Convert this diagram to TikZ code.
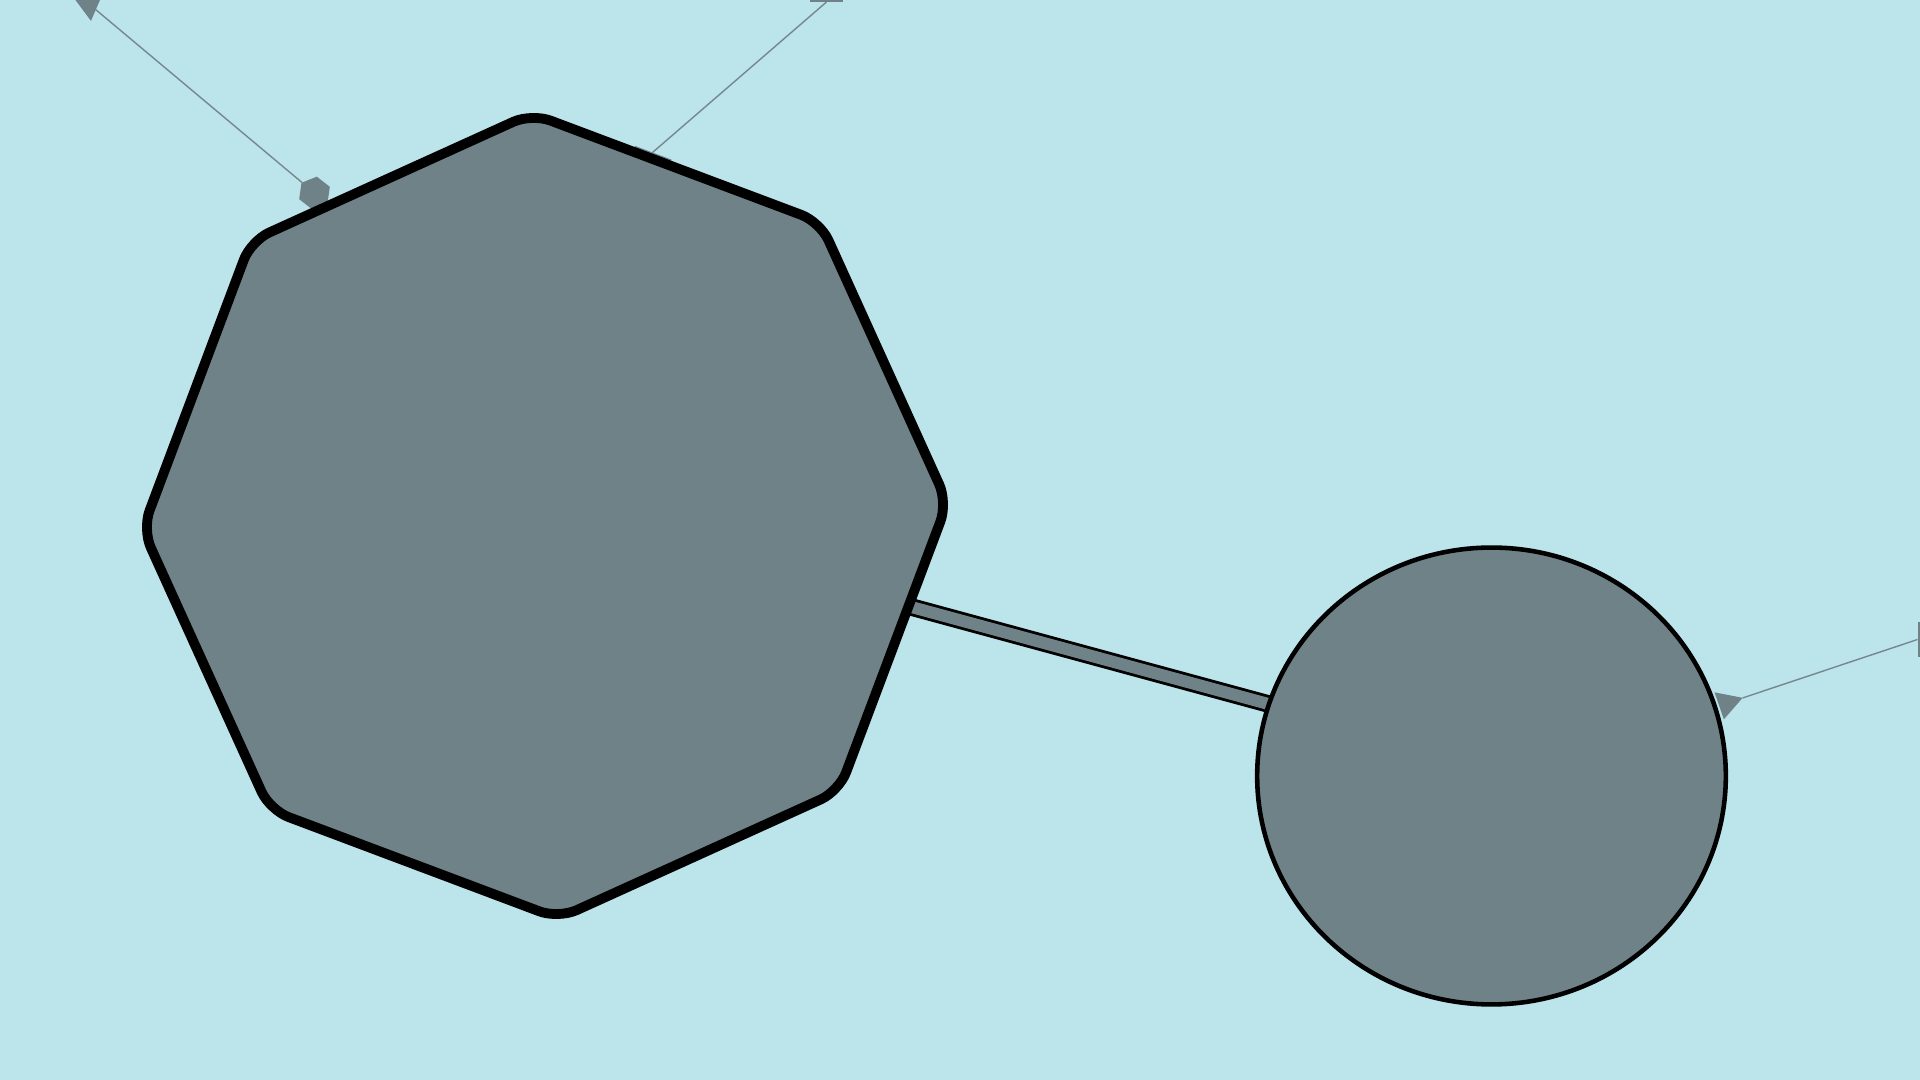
\documentclass[tikz,border=0pt]{standalone}
\usepackage{tikz}
\usetikzlibrary{shapes.geometric}
\definecolor{bgblue}{RGB}{188,228,235}
\definecolor{slate}{RGB}{111,130,136}
\definecolor{wire}{RGB}{118,136,142}
\pgfdeclarelayer{back}
\pgfsetlayers{back,main}
\tikzset{
  octa/.style={regular polygon, regular polygon sides=8, minimum size=8.05cm,
    inner sep=0pt, outer sep=0pt, rotate=-20.6, fill=slate, draw=black,
    line width=2.8pt, rounded corners=0.2cm},
  blob/.style={ellipse, minimum width=4.684cm, minimum height=4.566cm,
    inner sep=0pt, outer sep=0pt, fill=slate, draw=black, line width=1.3pt},
  bond/.style={draw=black, line width=0.8pt, double=slate, double distance=3.4pt},
  tipmark/.style={regular polygon, inner sep=0pt, outer sep=0pt, fill=slate},
  barmark/.style={rectangle, inner sep=0pt, outer sep=0pt, fill=slate},
  wireline/.style={draw=wire, line width=0.4pt}
}
\begin{document}
\begin{tikzpicture}[x=0.01cm,y=-0.01cm]
\useasboundingbox (0,0) rectangle (1920,1080);
% the two big shapes
\node[octa] (oct) at (545,516) {};
\node[blob] (ell) at (1491.5,776) {};
\begin{pgfonlayer}{back}
  \fill[bgblue] (0,0) rectangle (1920,1080);
  \draw[bond] ([yshift=0.085cm]oct.center) -- ([yshift=0.114cm]ell.center);
  % end markers
  \node[tipmark, regular polygon sides=3, minimum size=0.34cm, rotate=-53.3] (tria) at (89,4) {};
  \node[tipmark, regular polygon sides=6, minimum size=0.33cm, rotate=22] (hexa) at (314.5,193) {};
  \node[tipmark, regular polygon sides=4, minimum size=0.55cm, rotate=-20.6] (sqa) at (646.5,171) {};
  \coordinate (endb) at (626.5,175);
  \node[barmark, minimum width=0.33cm, minimum height=0.2cm] (bara) at (826.5,-8) {};
  \node[tipmark, regular polygon sides=3, minimum size=0.33cm, rotate=-71.1] (trib) at (1727,703.2) {};
  \node[barmark, minimum width=0.1cm, minimum height=0.35cm] (barb) at (1922.5,639.5) {};
  % thin links
  \draw[wireline] (tria) -- (hexa);
  \draw[wireline] (endb) -- (bara.south);
  \draw[wireline] (trib) -- (barb.west);
\end{pgfonlayer}
\end{tikzpicture}
\end{document}
